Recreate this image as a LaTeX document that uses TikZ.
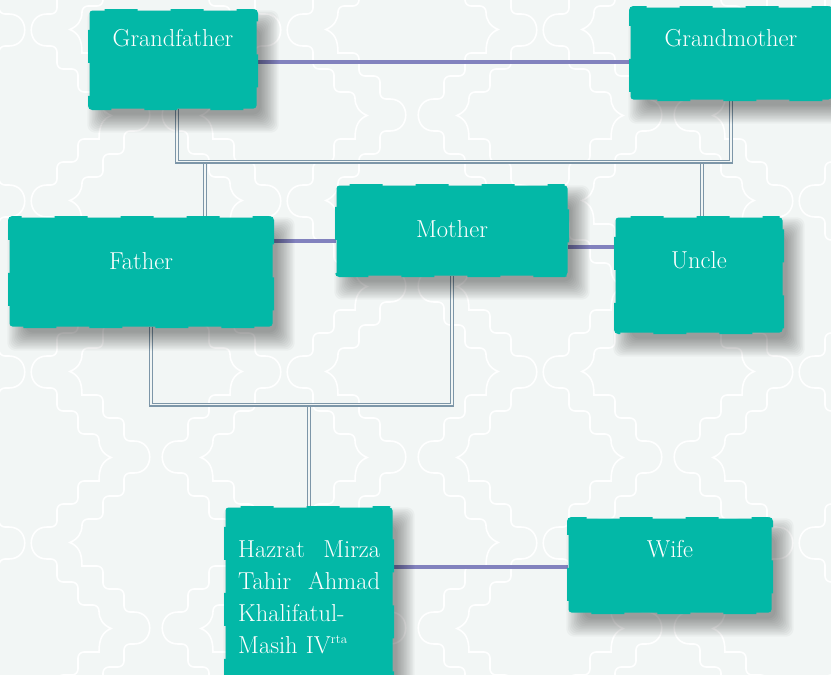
\documentclass[tikz,border=0pt]{standalone}
\definecolor{bgc}{RGB}{242,246,245}
\definecolor{tealc}{RGB}{3,184,167}
\definecolor{spc}{RGB}{130,130,190}
\definecolor{kinc}{RGB}{125,150,168}
\newcommand\wavepiece{%
  (0,-16) .. controls (21,-16) and (21,16) .. (0,16)
  [rounded corners=6pt] -- (-10,16) -- (-10,39) -- (-31,39) -- (-31,62) -- (-52,62)
  [sharp corners] .. controls (-52,76) and (-56,82) .. (-64,85.5)
  .. controls (-56,89) and (-52,95) .. (-52,109)
  [rounded corners=6pt] -- (-31,109) -- (-31,132) -- (-10,132) -- (-10,155) -- (0,155)}
\newcommand\boxshadow[1]{%
  \foreach \sv in {-6,-4.5,...,12}{%
    \fill[black, opacity=0.03, rounded corners=8pt]
      ([shift={(10-\sv,12-\sv)}]#1.north west) rectangle ([shift={(10+\sv,12+\sv)}]#1.south east);}}
\begin{document}
\begin{tikzpicture}[x=1pt,y=-1pt,
  famebox/.style={fill=tealc, draw=tealc, line width=3pt, dash pattern=on 33pt off 33pt, dash phase=16pt,
    rounded corners=3pt, inner sep=0pt},
  anchorbox/.style={inner sep=0pt},
  txt/.style={text=white, font=\fontsize{24.5}{32}\selectfont, anchor=base, inner sep=0pt},
  spouse/.style={draw=spc, line width=4.6pt},
  kin/.style={draw=kinc, line width=1.1pt, double=bgc, double distance=1.8pt},
  pat/.style={draw=white, line width=1.6pt}]
\useasboundingbox (0,0) rectangle (831,675);
\clip (0,0) rectangle (831,675);
\fill[bgc] (0,0) rectangle (831,675);
% background trellis
\foreach \k in {-3,...,2}{
  \foreach \m in {-3,...,2}{
    \draw[pat, shift={(521+256*\k,372+171*\m)}] \wavepiece;
    \draw[pat, shift={(646+256*\k,457+171*\m)}] \wavepiece;
    \draw[pat, shift={(434+256*\k,457+171*\m)}, xscale=-1] \wavepiece;
    \draw[pat, shift={(559+256*\k,372+171*\m)}, xscale=-1] \wavepiece;
  }
}
% box positions
\path (173,59.5) coordinate (cgf) (731,53.5) coordinate (cgm) (141,272) coordinate (cfa)
      (452,230.5) coordinate (cmo) (699,275) coordinate (cun) (309,603) coordinate (chz)
      (670,565.5) coordinate (cwf);
\coordinate (y1) at (0,62);
\coordinate (y2) at (0,241);
\coordinate (y3) at (0,247);
\coordinate (y4) at (0,567);
\coordinate (j1) at (0,161.5);
\coordinate (j2) at (0,404.5);
\path
  node[anchorbox, minimum width=167pt, minimum height=98pt] (gf) at (cgf) {}
  node[anchorbox, minimum width=201pt, minimum height=92pt] (gm) at (cgm) {}
  node[anchorbox, minimum width=263pt, minimum height=109pt] (fa) at (cfa) {}
  node[anchorbox, minimum width=231pt, minimum height=90pt] (mo) at (cmo) {}
  node[anchorbox, minimum width=167pt, minimum height=115pt] (un) at (cun) {}
  node[anchorbox, minimum width=167pt, minimum height=191pt] (hz) at (chz) {}
  node[anchorbox, minimum width=203pt, minimum height=94pt] (wf) at (cwf) {};
% parent-child connectors
\draw[kin] ([xshift=64pt]fa.north |- j1) -- ([xshift=64pt]fa.north);
\draw[kin] ([xshift=3pt]un.north |- j1) -- ([xshift=3pt]un.north);
\draw[kin] ([xshift=4pt]gf.south) |- (j1 -| gm.south) -- (gm.south);
\draw[kin] (hz.north |- j2) -- (hz.north);
\draw[kin] ([xshift=10pt]fa.south) |- (j2 -| mo.south) -- (mo.south);
% spouse connectors
\draw[spouse] (gf.east |- y1) -- (gm.west |- y1);
\draw[spouse] (fa.east |- y2) -- (mo.west |- y2);
\draw[spouse] (mo.east |- y3) -- (un.west |- y3);
\draw[spouse] (hz.east |- y4) -- (wf.west |- y4);
% shadows
\boxshadow{gf}\boxshadow{gm}\boxshadow{fa}\boxshadow{mo}\boxshadow{un}\boxshadow{hz}\boxshadow{wf}
% boxes
\node[famebox, minimum width=167pt, minimum height=98pt] (gfb) at (cgf) {};
\node[famebox, minimum width=201pt, minimum height=92pt] (gmb) at (cgm) {};
\node[famebox, minimum width=263pt, minimum height=109pt] (fab) at (cfa) {};
\node[famebox, minimum width=231pt, minimum height=90pt] (mob) at (cmo) {};
\node[famebox, minimum width=167pt, minimum height=115pt] (unb) at (cun) {};
\node[famebox, minimum width=167pt, minimum height=191pt] (hzb) at (chz) {};
\node[famebox, minimum width=203pt, minimum height=94pt] (wfb) at (cwf) {};
% texts
\node[txt] (tgf) at (173,46) {Grandfather};
\node[txt] (tgm) at (731,46) {Grandmother};
\node[txt] (tfa) at (141,269) {Father};
\node[txt] (tmo) at (452,237) {Mother};
\node[txt] (tun) at (699,268) {Uncle};
\node[txt] (twf) at (670,557) {Wife};
\node[txt, anchor=base west, text width=142pt] (thz) at (238,557)
  {Hazrat\hfill Mirza\\Tahir\hfill Ahmad\\Khalifatul-\\Masih IV\textsuperscript{\fontsize{13}{13}\selectfont rta}};
\end{tikzpicture}
\end{document}
